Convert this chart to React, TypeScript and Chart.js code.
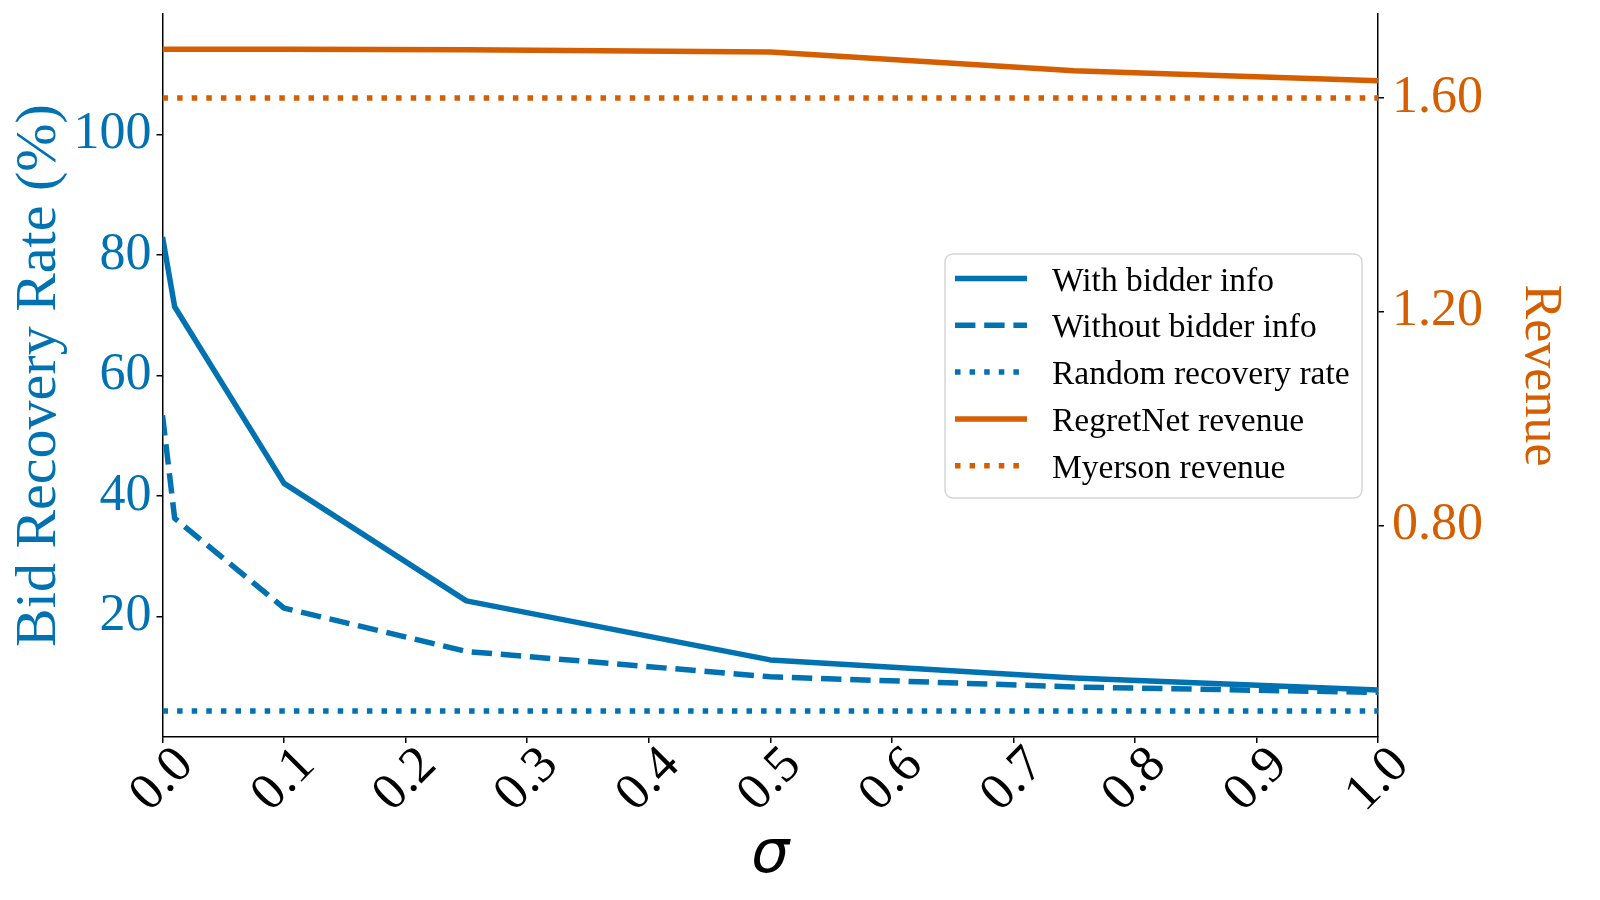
import { useEffect, useRef } from "react"
import { Chart, registerables, type Plugin } from "chart.js"
Chart.register(...registerables)

const SIGMA = [0, 0.01, 0.1, 0.25, 0.5, 0.75, 1.0]
const WITH_INFO = [83.0, 71.4, 42.1, 22.6, 12.8, 9.8, 7.8]
const WITHOUT_INFO = [53.4, 36.3, 21.4, 14.2, 10.0, 8.3, 7.4]
const RANDOM_RATE = [4.3, 4.3, 4.3, 4.3, 4.3, 4.3, 4.3]
const REGRETNET = [1.691, 1.691, 1.691, 1.69, 1.686, 1.651, 1.632]
const MYERSON = [1.6, 1.6, 1.6, 1.6, 1.6, 1.6, 1.6]

const X_TICKS = [0, 0.1, 0.2, 0.3, 0.4, 0.5, 0.6, 0.7, 0.8, 0.9, 1.0]
const LEFT_TICKS = [20, 40, 60, 80, 100]
const RIGHT_TICKS = [0.8, 1.2, 1.6]

const BLUE = "#0072B2"
const ORANGE = "#D55E00"
const SERIF = "'Liberation Serif', 'Times New Roman', serif"
const LW = 5.5
const DASHED = [20.4, 8.8]
const DOTTED = [5.5, 9.1]

const toPts = (ys: number[]) => SIGMA.map((x, i) => ({ x, y: ys[i] }))

// matplotlib-style legend box, inside the axes on the right
const legendBox: Plugin<"line"> = {
  id: "legendBox",
  afterDraw(chart) {
    const ctx = chart.ctx
    const x = 945, y = 254, w = 417, h = 244, r = 8
    ctx.save()
    ctx.beginPath()
    ctx.roundRect(x, y, w, h, r)
    ctx.fillStyle = "rgba(255,255,255,0.8)"
    ctx.fill()
    ctx.lineWidth = 1.5
    ctx.strokeStyle = "rgba(204,204,204,0.8)"
    ctx.stroke()
    chart.data.datasets.forEach((ds: any, i) => {
      const cy = 278.5 + i * 46.8
      ctx.beginPath()
      ctx.setLineDash(ds.borderDash || [])
      ctx.lineCap = "butt"
      ctx.lineWidth = LW
      ctx.strokeStyle = ds.borderColor
      ctx.moveTo(955, cy)
      ctx.lineTo(1027, cy)
      ctx.stroke()
      ctx.setLineDash([])
      ctx.fillStyle = "#000"
      ctx.font = `33.5px ${SERIF}`
      ctx.textBaseline = "alphabetic"
      ctx.textAlign = "left"
      ctx.fillText(ds.label, 1052, cy + 12)
    })
    ctx.restore()
  },
}

export default function App() {
  const canvasRef = useRef<HTMLCanvasElement>(null)
  const chartRef = useRef<Chart | null>(null)

  useEffect(() => {
    const canvas = canvasRef.current
    if (!canvas) return
    chartRef.current?.destroy()

    const line = (label: string, ys: number[], color: string, axis: string, dash: number[]) => ({
      label,
      data: toPts(ys),
      borderColor: color,
      backgroundColor: color,
      borderWidth: LW,
      borderDash: dash,
      borderJoinStyle: "round" as const,
      pointRadius: 0,
      tension: 0,
      yAxisID: axis,
    })

    const noPad = (s: any) => {
      s.paddingTop = 0
      s.paddingBottom = 0
      s.paddingLeft = 0
      s.paddingRight = 0
    }

    chartRef.current = new Chart(canvas, {
      type: "line",
      data: {
        datasets: [
          line("With bidder info", WITH_INFO, BLUE, "y", []),
          line("Without bidder info", WITHOUT_INFO, BLUE, "y", DASHED),
          line("Random recovery rate", RANDOM_RATE, BLUE, "y", DOTTED),
          line("RegretNet revenue", REGRETNET, ORANGE, "y2", []),
          line("Myerson revenue", MYERSON, ORANGE, "y2", DOTTED),
        ],
      },
      options: {
        responsive: false,
        devicePixelRatio: 1,
        animation: false,
        layout: { padding: { top: 14, left: 0, right: 0, bottom: 0 } },
        plugins: { legend: { display: false }, tooltip: { enabled: false } },
        scales: {
          x: {
            type: "linear",
            min: 0,
            max: 1,
            afterBuildTicks: (s) => { s.ticks = X_TICKS.map((value) => ({ value })) },
            afterFit: (s) => { s.height = 900 - 737; noPad(s) },
            ticks: {
              callback: (v) => Number(v).toFixed(1),
              minRotation: 45,
              maxRotation: 45,
              autoSkip: false,
              padding: -8,
              labelOffset: 23,
              color: "#000",
              font: { family: SERIF, size: 52 },
            },
            grid: { display: true, drawOnChartArea: false, drawTicks: true, tickLength: 6, color: "#000", lineWidth: 1.5 },
            border: { display: true, color: "#000", width: 1.5 },
            title: {
              display: true,
              text: "σ",
              color: "#000",
              font: { family: "'DejaVu Sans', sans-serif", size: 60, style: "italic" },
              padding: { top: 0, bottom: 8 },
            },
          },
          y: {
            type: "linear",
            position: "left",
            min: 0,
            max: 120,
            afterBuildTicks: (s) => { s.ticks = LEFT_TICKS.map((value) => ({ value })) },
            afterFit: (s) => { s.width = 162.5; noPad(s) },
            ticks: { color: BLUE, padding: 5, font: { family: SERIF, size: 52 } },
            grid: { display: true, drawOnChartArea: false, drawTicks: true, tickLength: 6, color: "#000", lineWidth: 1.5 },
            border: { display: true, color: "#000", width: 1.5 },
            title: {
              display: true,
              text: "Bid Recovery Rate (%)",
              color: BLUE,
              font: { family: SERIF, size: 58 },
              padding: { top: 5, bottom: 0 },
            },
          },
          y2: {
            type: "linear",
            position: "right",
            min: 0.404,
            max: 1.757,
            afterBuildTicks: (s) => { s.ticks = RIGHT_TICKS.map((value) => ({ value })) },
            afterFit: (s) => { s.width = 1600 - 1378; noPad(s) },
            ticks: {
              color: ORANGE,
              padding: 8,
              font: { family: SERIF, size: 52 },
              callback: (v) => Number(v).toFixed(2),
            },
            grid: { display: true, drawOnChartArea: false, drawTicks: true, tickLength: 6, color: "#000", lineWidth: 1.5 },
            border: { display: true, color: "#000", width: 1.5 },
            title: {
              display: true,
              text: "Revenue",
              color: ORANGE,
              font: { family: SERIF, size: 52 },
              padding: { top: 29, bottom: 0 },
            },
          },
        },
      },
      plugins: [legendBox],
    })

    return () => { chartRef.current?.destroy() }
  }, [])

  return (
    <div style={{ position: "fixed", left: 0, top: 0, width: 1600, height: 900, background: "#fff" }}>
      <canvas ref={canvasRef} width={1600} height={900} role="img" aria-label="Bid recovery rate and revenue versus sigma" />
    </div>
  )
}
